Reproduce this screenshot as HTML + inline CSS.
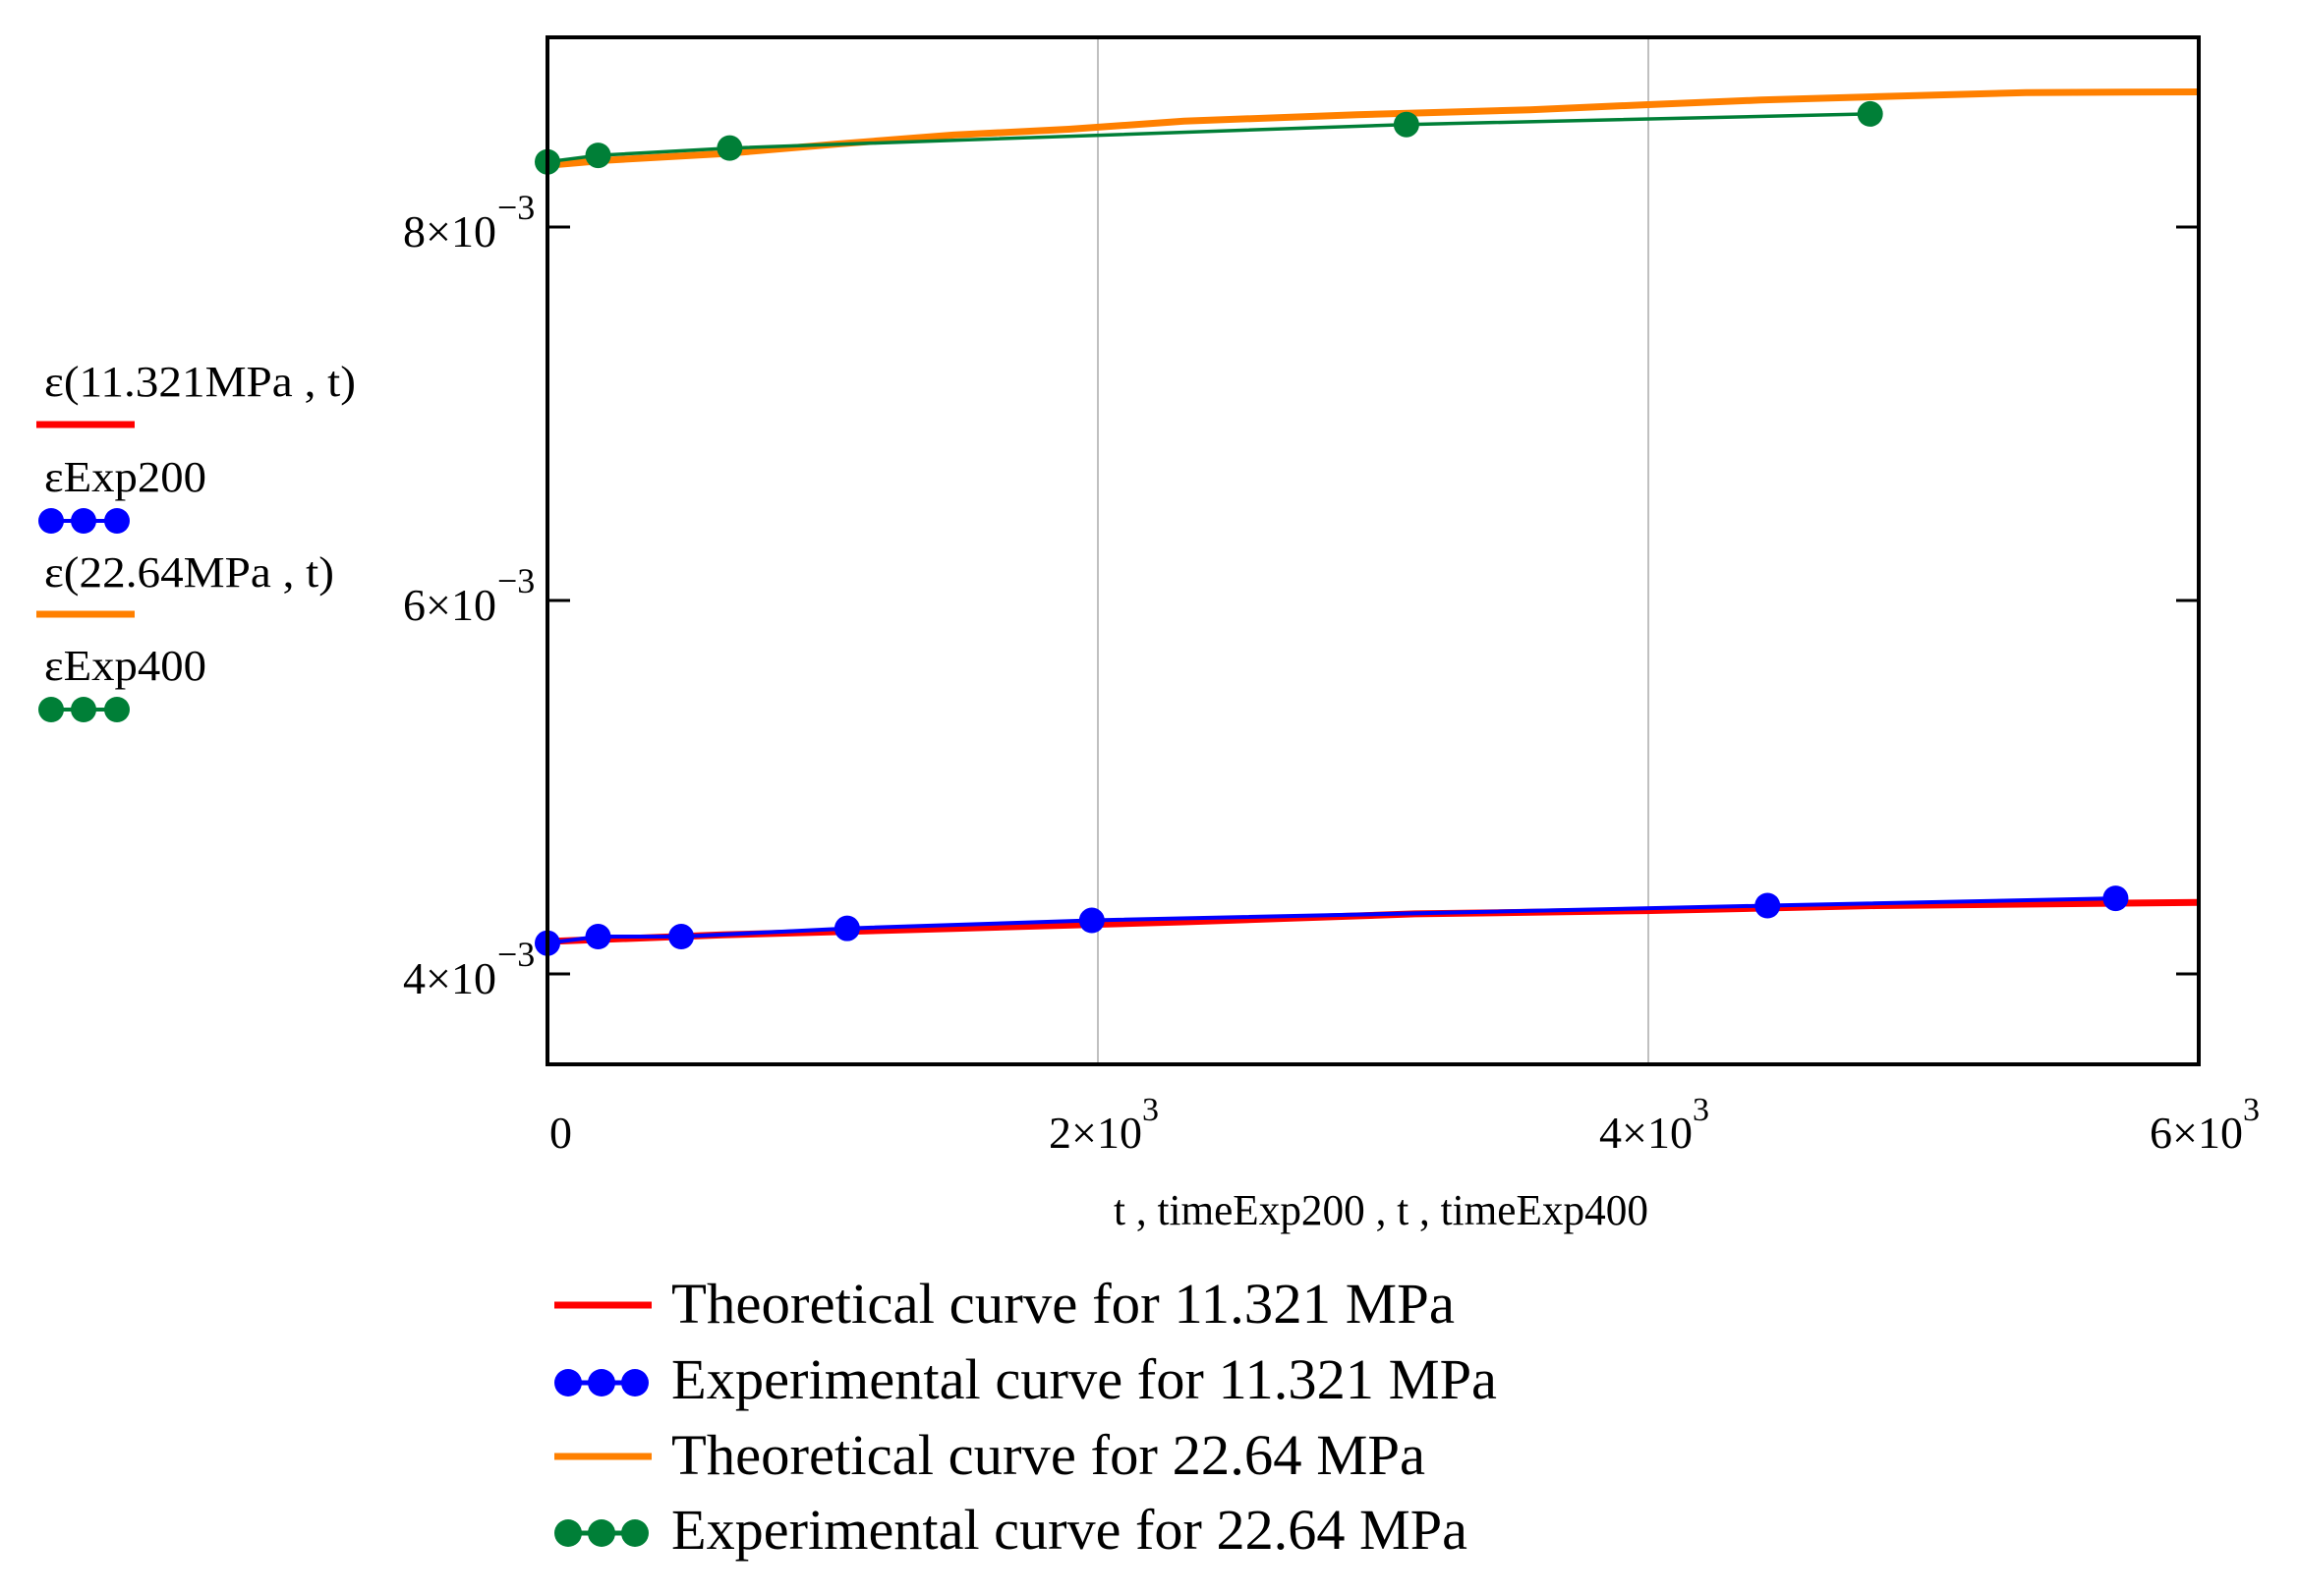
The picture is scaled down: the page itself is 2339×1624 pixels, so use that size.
<!DOCTYPE html>
<html><head><meta charset="utf-8"><style>
html,body{margin:0;padding:0;background:#fff;}
svg{display:block;font-family:"Liberation Serif",serif;}
</style></head><body>
<svg id="chart" width="2339" height="1624" viewBox="0 0 2339 1624" xmlns="http://www.w3.org/2000/svg">
<rect width="2339" height="1624" fill="#fff"/>
<g id="grid"></g>
<g id="series"></g>
<rect x="557" y="38" width="1680" height="1045" fill="none" stroke="#000" stroke-width="4"/>
<g id="ticks"></g>
<text x="1133" y="1246" font-size="44" textLength="544" lengthAdjust="spacingAndGlyphs">t , timeExp200 , t , timeExp400</text>

<g>
<text x="45" y="403" font-size="44" textLength="317" lengthAdjust="spacingAndGlyphs">ε(11.321MPa , t)</text>
<line x1="37" y1="432" x2="137" y2="432" stroke="#ff0000" stroke-width="7"/>
<text x="45" y="500" font-size="44" textLength="165" lengthAdjust="spacingAndGlyphs">εExp200</text>
<g fill="#0000ff"><line x1="52" y1="530" x2="119" y2="530" stroke="#0000ff" stroke-width="4"/><circle cx="52" cy="530" r="13"/><circle cx="85" cy="530" r="13"/><circle cx="119" cy="530" r="13"/></g>
<text x="45" y="597" font-size="44" textLength="295" lengthAdjust="spacingAndGlyphs">ε(22.64MPa , t)</text>
<line x1="37" y1="625" x2="137" y2="625" stroke="#ff8000" stroke-width="7"/>
<text x="45" y="692" font-size="44" textLength="165" lengthAdjust="spacingAndGlyphs">εExp400</text>
<g fill="#007f37"><line x1="52" y1="722" x2="119" y2="722" stroke="#007f37" stroke-width="4"/><circle cx="52" cy="722" r="13"/><circle cx="85" cy="722" r="13"/><circle cx="119" cy="722" r="13"/></g>
</g>

<g>
<line x1="564" y1="1328" x2="663" y2="1328" stroke="#ff0000" stroke-width="7"/>
<text x="683" y="1346" font-size="58" textLength="797" lengthAdjust="spacingAndGlyphs">Theoretical curve for 11.321 MPa</text>
<g fill="#0000ff"><line x1="578" y1="1407" x2="646" y2="1407" stroke="#0000ff" stroke-width="5"/><circle cx="578" cy="1407" r="14"/><circle cx="612" cy="1407" r="14"/><circle cx="646" cy="1407" r="14"/></g>
<text x="683" y="1423" font-size="58" textLength="840" lengthAdjust="spacingAndGlyphs">Experimental curve for 11.321 MPa</text>
<line x1="564" y1="1482" x2="663" y2="1482" stroke="#ff8000" stroke-width="7"/>
<text x="683" y="1500" font-size="58" textLength="767" lengthAdjust="spacingAndGlyphs">Theoretical curve for 22.64 MPa</text>
<g fill="#007f37"><line x1="578" y1="1560" x2="646" y2="1560" stroke="#007f37" stroke-width="5"/><circle cx="578" cy="1560" r="14"/><circle cx="612" cy="1560" r="14"/><circle cx="646" cy="1560" r="14"/></g>
<text x="683" y="1576" font-size="58" textLength="810" lengthAdjust="spacingAndGlyphs">Experimental curve for 22.64 MPa</text>
</g>
</svg>
<script>
const xTicks = [0, 2000, 4000, 6000];
const xTickLabels = ["0", "2×10", "4×10", "6×10"];
const xTickExps = ["", "3", "3", "3"];
const yTicks = [0.004, 0.006, 0.008];
const yTickLabels = ["4×10", "6×10", "8×10"];
const theoryT = [0, 218, 637, 1056, 1475, 1894, 2313, 2941, 3570, 3989, 4408, 4827, 5372, 6000];
const theory22 = [8.33, 8.358, 8.393, 8.445, 8.493, 8.524, 8.567, 8.602, 8.628, 8.655, 8.68, 8.698, 8.72, 8.724];
const theory11T = [0, 637, 1475, 2313, 3151, 3989, 4827, 6000];
const theory11 = [4.174, 4.209, 4.244, 4.279, 4.322, 4.339, 4.366, 4.383];
const time200 = [0, 184, 486, 1089, 1978, 4433, 5698];
const exp200 = [4.165, 4.2, 4.2, 4.244, 4.287, 4.366, 4.405];
const time400 = [0, 184, 662, 3121, 4806];
const exp400 = [8.349, 8.384, 8.423, 8.549, 8.606];

const NS = "http://www.w3.org/2000/svg";
const X0 = 557, X1 = 2237, Y0 = 38, Y1 = 1083;
const xMin = 0, xMax = 6000, yMin = 3.516e-3, yMax = 9.016e-3;
function xs(v){ return X0 + (v - xMin) / (xMax - xMin) * (X1 - X0); }
function ys(v){ return Y1 - (v - yMin) / (yMax - yMin) * (Y1 - Y0); }
function mk(tag, attrs, parent){ const e = document.createElementNS(NS, tag); for (const k in attrs) e.setAttribute(k, attrs[k]); parent.appendChild(e); return e; }

const grid = document.getElementById("grid");
const ticks = document.getElementById("ticks");
const series = document.getElementById("series");

xTicks.forEach((t, i) => {
  if (t > xMin && t < xMax) {
    const g = mk("line", {x1: xs(t), x2: xs(t), y1: Y0, y2: Y1, stroke: "#c0c0c0", "stroke-width": 2}, grid);
    
    
  }
  const tx = mk("text", {x: i === 0 ? xs(t) + 2 : xs(t) - 50, y: 1168, "font-size": 46}, ticks);
  
  
  tx.textContent = xTickLabels[i];
  if (xTickExps[i]) {
    const sp = mk("tspan", {dy: -28, "font-size": 34}, tx);
    sp.textContent = xTickExps[i];
  }
});

yTicks.forEach((v, i) => {
  const y = ys(v);
  const l1 = mk("line", {x1: X0, x2: X0 + 23, y1: y, y2: y, stroke: "#000", "stroke-width": 3}, ticks);
  
  
  const l2 = mk("line", {x1: X1 - 23, x2: X1, y1: y, y2: y, stroke: "#000", "stroke-width": 3}, ticks);
  
  
  const tx = mk("text", {x: 410, y: y + 20, "font-size": 46}, ticks);
  
  
  tx.textContent = yTickLabels[i];
  const sp = mk("tspan", {x: 506, y: y - 8, "font-size": 36}, tx);
  sp.textContent = "−3";
});

function poly(tArr, vArr, color, w, name){
  const pts = tArr.map((t, i) => xs(t).toFixed(1) + "," + ys(vArr[i] * 1e-3).toFixed(1)).join(" ");
  const p = mk("polyline", {points: pts, fill: "none", stroke: color, "stroke-width": w}, series);
  
  
}
function dots(tArr, vArr, color, r, name){
  tArr.forEach((t, i) => {
    const c = mk("circle", {cx: xs(t), cy: ys(vArr[i] * 1e-3), r: r, fill: color}, series);
    
    
  });
}
poly(theoryT, theory22, "#ff8000", 7, "theory-22-line");
poly(time400, exp400, "#007f37", 3.5, "exp400-line");
dots(time400, exp400, "#007f37", 13, "exp400-point");
poly(theory11T, theory11, "#ff0000", 7, "theory-11-line");
poly(time200, exp200, "#0000ff", 4, "exp200-line");
dots(time200, exp200, "#0000ff", 13, "exp200-point");
</script>
</body></html>
